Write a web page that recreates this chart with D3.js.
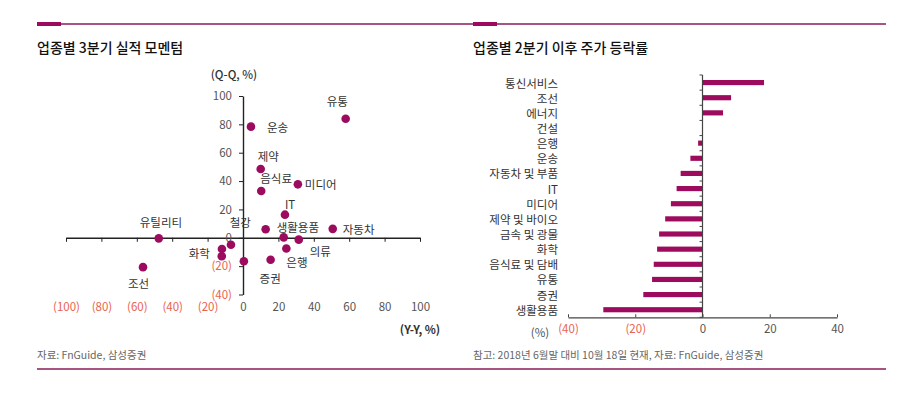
<!DOCTYPE html>
<html>
<head>
<meta charset="utf-8">
<script src="https://cdn.jsdelivr.net/npm/d3@7"></script>
<style>
  body { margin: 0; background: #fff; }
  svg text { font-family: "Noto Sans CJK KR", "Noto Sans", sans-serif; }
</style>
</head>
<body>
<svg id="chart" width="920" height="395"></svg>
<script>
// scatter: sector earnings momentum (Y-Y vs Q-Q)
const scatterLabels = ["유통", "운송", "제약", "음식료", "미디어", "IT", "철강", "생활용품",
                       "자동차", "의류", "은행", "증권", "유틸리티", "조선", "화학", "", "", ""];
const scatterYY = [58, 4.5, 10, 10.3, 31, 23.7, 12.8, 23, 50.7, 31.5, 24.5, 15.6, -47.6, -56.5, -12, -11.9, -6.8, 0.5];
const scatterQQ = [84, 78.4, 48.5, 33, 37.7, 16.3, 6, 0.3, 6.3, -1.3, -7.6, -15.5, -0.4, -20.7, -13, -7.9, -4.9, -16.5];
const scatterXTicks = [-100, -80, -60, -40, -20, 0, 20, 40, 60, 80, 100];
const scatterYTicks = [-40, -20, 0, 20, 40, 60, 80, 100];

// bars: price change since Q2
const barCategories = ["통신서비스", "조선", "에너지", "건설", "은행", "운송", "자동차 및 부품", "IT", "미디어",
                       "제약 및 바이오", "금속 및 광물", "화학", "음식료 및 담배", "유통", "증권", "생활용품"];
const barValues = [18.3, 8.5, 6.1, 0, -1.3, -3.6, -6.5, -7.7, -9.4, -11.1, -12.9, -13.5, -14.5, -15.0, -17.6, -29.5];
const barTicks = [-40, -20, 0, 20, 40];

// label placement for scatter (px, from dot centre)
const labelOffsets = {
  "유통": [-19, -18], "운송": [16, 0], "제약": [-3, -13], "음식료": [-1, -13], "미디어": [7, 0],
  "IT": [0, -11], "철강": [-36, -7], "생활용품": [-7, -10], "자동차": [10, 0], "의류": [11, 11],
  "은행": [0, 13], "증권": [-11, 18], "유틸리티": [-19, -16], "조선": [-15, 16], "화학": [-33, -3]
};

const accent = "#9C0B5E";
const ruleColor = "#8A1B5C";
const negColor = "#E9634F";
const textColor = "#333";
const fs = 11.5;

const fmt = v => v < 0 ? "(" + Math.abs(v) + ")" : "" + v;

const svg = d3.select("#chart");

// frame rules and titles
svg.append("line").attr("x1", 37).attr("x2", 886).attr("y1", 24).attr("y2", 24)
    .attr("stroke", ruleColor).attr("stroke-width", 1.3);
svg.append("line").attr("x1", 37).attr("x2", 886).attr("y1", 369).attr("y2", 369)
    .attr("stroke", ruleColor).attr("stroke-width", 1.3);
[37, 473].forEach(x => {
  svg.append("rect").attr("x", x).attr("y", 22).attr("width", 24).attr("height", 4).attr("fill", accent);
});

svg.append("text").attr("x", 37).attr("y", 53).attr("font-size", 14).attr("font-weight", 500)
    .attr("fill", "#111").text("업종별 3분기 실적 모멘텀");
svg.append("text").attr("x", 473).attr("y", 53).attr("font-size", 14).attr("font-weight", 500)
    .attr("fill", "#111").text("업종별 2분기 이후 주가 등락률");

svg.append("text").attr("x", 37).attr("y", 359).attr("font-size", 10.5).attr("fill", "#666")
    .text("자료: FnGuide, 삼성증권");
svg.append("text").attr("x", 473).attr("y", 359).attr("font-size", 10.5).attr("fill", "#666")
    .text("참고: 2018년 6월말 대비 10월 18일 현재, 자료: FnGuide, 삼성증권");

// ---------- scatter ----------
const x = d3.scaleLinear().domain([-100, 100]).range([66, 420]);
const y = d3.scaleLinear().domain([-40, 100]).range([294.5, 96]);

const xAxis = svg.append("g")
    .attr("transform", `translate(0,${y(0)})`)
    .call(d3.axisBottom(x).tickValues(scatterXTicks).tickFormat(fmt)
            .tickSizeInner(4).tickSizeOuter(0).tickPadding(61));
xAxis.select(".domain").attr("stroke", "#222").attr("stroke-width", 1.4);
xAxis.selectAll(".tick line").attr("stroke", "#222");
xAxis.selectAll(".tick text").attr("font-size", fs)
    .attr("fill", d => d < 0 ? negColor : "#555");

const yAxis = svg.append("g")
    .attr("transform", `translate(${x(0)},0)`)
    .call(d3.axisLeft(y).tickValues(scatterYTicks).tickFormat(fmt)
            .tickSizeInner(4).tickSizeOuter(0).tickPadding(7));
yAxis.select(".domain").attr("stroke", "#222").attr("stroke-width", 1.4);
yAxis.selectAll(".tick line").attr("stroke", "#222");
yAxis.selectAll(".tick text").attr("font-size", fs)
    .attr("fill", d => d < 0 ? negColor : "#555");

svg.append("text").attr("x", 234).attr("y", 79).attr("text-anchor", "middle")
    .attr("font-size", fs).attr("font-weight", 500).attr("fill", textColor).text("(Q-Q, %)");
svg.append("text").attr("x", 420).attr("y", 334).attr("text-anchor", "middle")
    .attr("font-size", fs).attr("font-weight", 700).attr("fill", textColor).text("(Y-Y, %)");

const pts = scatterLabels.map((name, i) => ({ name, yy: scatterYY[i], qq: scatterQQ[i] }));

svg.append("g").selectAll("circle").data(pts).join("circle")
    .attr("cx", d => x(d.yy)).attr("cy", d => y(d.qq)).attr("r", 4.3)
    .attr("fill", accent);

svg.append("g").selectAll("text").data(pts.filter(d => d.name)).join("text")
    .attr("x", d => x(d.yy) + labelOffsets[d.name][0])
    .attr("y", d => y(d.qq) + labelOffsets[d.name][1])
    .attr("dominant-baseline", "central")
    .attr("font-size", fs).attr("fill", textColor)
    .text(d => d.name);

// ---------- bars ----------
const bx = d3.scaleLinear().domain([-40, 40]).range([568, 837]);
const by = d3.scaleBand().domain(barCategories).range([75, 317.3])
    .paddingInner(0.66).paddingOuter(0.33);

svg.append("g").selectAll("rect").data(barCategories).join("rect")
    .attr("x", (d, i) => bx(Math.min(0, barValues[i])))
    .attr("width", (d, i) => Math.abs(bx(barValues[i]) - bx(0)))
    .attr("y", d => by(d))
    .attr("height", by.bandwidth())
    .attr("fill", accent);

const bxAxis = svg.append("g")
    .attr("transform", `translate(0,317.3)`)
    .call(d3.axisBottom(bx).tickValues(barTicks).tickFormat(fmt)
            .tickSizeInner(-3).tickSizeOuter(0).tickPadding(8));
bxAxis.select(".domain").attr("stroke", "#444").attr("stroke-width", 1.2);
bxAxis.selectAll(".tick line").attr("stroke", "#444");
bxAxis.selectAll(".tick text").attr("font-size", fs)
    .attr("fill", d => d < 0 ? negColor : "#555");

// category axis at zero with ticks at band boundaries
const step = by.step();
const y0 = by.range()[0];
svg.append("line").attr("x1", bx(0)).attr("x2", bx(0)).attr("y1", y0).attr("y2", by.range()[1])
    .attr("stroke", "#444").attr("stroke-width", 1.2);
svg.append("g").selectAll("line").data(d3.range(barCategories.length + 1)).join("line")
    .attr("x1", bx(0) - 3).attr("x2", bx(0))
    .attr("y1", i => y0 + i * step).attr("y2", i => y0 + i * step)
    .attr("stroke", "#444");

svg.append("g").selectAll("text").data(barCategories).join("text")
    .attr("x", 558).attr("y", d => by(d) + by.bandwidth() / 2)
    .attr("text-anchor", "end").attr("dominant-baseline", "central")
    .attr("font-size", fs).attr("fill", textColor)
    .text(d => d);

svg.append("text").attr("x", 540).attr("y", 332).attr("text-anchor", "middle")
    .attr("dominant-baseline", "central").attr("font-size", fs).attr("fill", "#555").text("(%)");
</script>
</body>
</html>
